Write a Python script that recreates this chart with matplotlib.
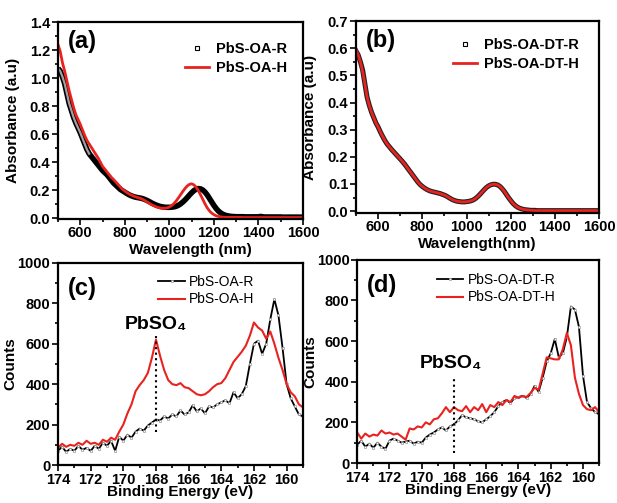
import numpy as np
import matplotlib
matplotlib.use('Agg')
import matplotlib.pyplot as plt
from matplotlib.ticker import MultipleLocator, FormatStrFormatter
from matplotlib.lines import Line2D

plt.rcParams['font.family'] = ['Liberation Sans', 'DejaVu Sans']
plt.rcParams['font.weight'] = 'bold'
plt.rcParams['axes.labelweight'] = 'bold'

# absorbance spectra, 500-1600 nm every 10 nm
wavelength = np.arange(500, 1610, 10)

abs_oa_r = [
    1.07, 1.05, 1.01, 0.96, 0.89, 0.82, 0.77, 0.72, 0.68, 0.645,
    0.61, 0.57, 0.53, 0.49, 0.46, 0.44, 0.42, 0.40, 0.38, 0.36,
    0.34, 0.325, 0.31, 0.29, 0.27, 0.25, 0.235, 0.22, 0.205, 0.195,
    0.185, 0.175, 0.166, 0.159, 0.153, 0.149, 0.146, 0.143, 0.139, 0.133,
    0.126, 0.118, 0.109, 0.101, 0.094, 0.088, 0.083, 0.080, 0.078, 0.077,
    0.077, 0.078, 0.080, 0.084, 0.091, 0.101, 0.114, 0.129, 0.146, 0.164,
    0.181, 0.196, 0.206, 0.211, 0.209, 0.201, 0.186, 0.166, 0.141, 0.116,
    0.091, 0.069, 0.051, 0.038, 0.028, 0.021, 0.017, 0.014, 0.012, 0.011,
    0.010, 0.010, 0.010, 0.010, 0.009, 0.009, 0.009, 0.009, 0.009, 0.009,
    0.009, 0.012, 0.009, 0.008, 0.008, 0.008, 0.008, 0.008, 0.008, 0.008,
    0.008, 0.007, 0.007, 0.007, 0.007, 0.007, 0.007, 0.007, 0.007, 0.007,
    0.007]

abs_oa_h = [
    1.24, 1.19, 1.11, 1.05, 0.98, 0.91, 0.85, 0.79, 0.74, 0.705,
    0.67, 0.63, 0.59, 0.555, 0.53, 0.505, 0.48, 0.455, 0.43, 0.40,
    0.37, 0.35, 0.33, 0.31, 0.29, 0.275, 0.258, 0.24, 0.222, 0.206,
    0.194, 0.182, 0.172, 0.164, 0.157, 0.151, 0.146, 0.141, 0.134, 0.125,
    0.115, 0.105, 0.096, 0.088, 0.081, 0.076, 0.072, 0.070, 0.070, 0.073,
    0.079, 0.089, 0.103, 0.121, 0.143, 0.166, 0.189, 0.211, 0.229, 0.241,
    0.245, 0.238, 0.222, 0.197, 0.167, 0.135, 0.102, 0.074, 0.052, 0.036,
    0.025, 0.017, 0.012, 0.009, 0.007, 0.006, 0.005, 0.005, 0.005, 0.005,
    0.005, 0.005, 0.005, 0.004, 0.004, 0.004, 0.004, 0.004, 0.004, 0.004,
    0.004, 0.004, 0.004, 0.004, 0.004, 0.004, 0.004, 0.004, 0.004, 0.004,
    0.004, 0.004, 0.004, 0.004, 0.004, 0.004, 0.004, 0.004, 0.004, 0.004,
    0.004]

abs_dt_r = [
    0.59, 0.575, 0.55, 0.52, 0.47, 0.42, 0.39, 0.365, 0.345, 0.325,
    0.31, 0.292, 0.276, 0.261, 0.248, 0.238, 0.228, 0.219, 0.21, 0.201,
    0.192, 0.183, 0.173, 0.162, 0.151, 0.14, 0.129, 0.118, 0.107, 0.098,
    0.091, 0.085, 0.08, 0.076, 0.073, 0.071, 0.069, 0.067, 0.065, 0.062,
    0.059, 0.055, 0.05, 0.045, 0.041, 0.038, 0.036, 0.035, 0.034, 0.034,
    0.035, 0.036, 0.038, 0.041, 0.046, 0.053, 0.061, 0.07, 0.079, 0.087,
    0.093, 0.097, 0.099, 0.099, 0.097, 0.092, 0.084, 0.074, 0.062, 0.05,
    0.039, 0.029, 0.021, 0.015, 0.011, 0.008, 0.006, 0.005, 0.004, 0.003,
    0.003, 0.003, 0.002, 0.002, 0.002, 0.002, 0.002, 0.002, 0.002, 0.002,
    0.002, 0.002, 0.002, 0.002, 0.002, 0.002, 0.002, 0.002, 0.002, 0.002,
    0.002, 0.002, 0.002, 0.002, 0.002, 0.002, 0.002, 0.002, 0.002, 0.002,
    0.002]

abs_dt_h = [
    0.595, 0.575, 0.55, 0.515, 0.47, 0.42, 0.39, 0.365, 0.345, 0.325,
    0.31, 0.292, 0.276, 0.261, 0.248, 0.238, 0.228, 0.219, 0.21, 0.201,
    0.192, 0.183, 0.173, 0.162, 0.151, 0.14, 0.129, 0.118, 0.107, 0.098,
    0.091, 0.085, 0.08, 0.076, 0.073, 0.071, 0.069, 0.067, 0.065, 0.062,
    0.059, 0.055, 0.05, 0.045, 0.041, 0.038, 0.036, 0.035, 0.034, 0.034,
    0.035, 0.036, 0.038, 0.041, 0.046, 0.053, 0.061, 0.07, 0.079, 0.087,
    0.093, 0.097, 0.099, 0.099, 0.097, 0.092, 0.084, 0.074, 0.062, 0.05,
    0.039, 0.029, 0.021, 0.015, 0.011, 0.008, 0.006, 0.005, 0.004, 0.003,
    0.003, 0.002, 0.002, 0.002, 0.002, 0.002, 0.002, 0.002, 0.002, 0.002,
    0.002, 0.002, 0.002, 0.002, 0.002, 0.002, 0.002, 0.002, 0.002, 0.002,
    0.002, 0.002, 0.002, 0.002, 0.002, 0.002, 0.002, 0.002, 0.002, 0.002,
    0.002]

# XPS S 2p region, 174 -> 159 eV every 0.25 eV
binding_energy = np.linspace(174, 159, 61)

xps_oa_r = [
    70, 90, 65, 80, 70, 95, 75, 85,
    70, 95, 80, 110, 95, 120, 70, 140,
    120, 150, 135, 165, 180, 170, 195, 210,
    225, 220, 240, 230, 250, 240, 270, 250,
    260, 295, 265, 280, 255, 290, 285, 300,
    310, 320, 305, 360, 330, 350, 390, 500,
    600, 615, 550, 600, 720, 820, 740, 580,
    400, 330, 290, 250, 240]

xps_oa_h = [
    85, 105, 90, 100, 95, 110, 100, 120,
    105, 110, 100, 125, 115, 135, 125, 165,
    200, 255, 300, 365, 395, 420, 455, 530,
    620, 540, 470, 420, 400, 395, 405, 385,
    380, 365, 350, 345, 350, 365, 385, 400,
    405, 430, 470, 510, 535, 560, 590, 640,
    705, 680, 665, 625, 660, 600, 530, 470,
    400, 360, 340, 300, 285]

xps_dt_r = [
    90, 110, 80, 95, 75, 100, 80, 70,
    110, 120, 110, 100, 105, 110, 95, 105,
    100, 125, 140, 150, 165, 175, 160, 180,
    190, 210, 235, 225, 220, 215, 205, 200,
    215, 230, 250, 280, 300, 310, 295, 320,
    325, 330, 320, 340, 380, 350, 420, 500,
    540, 610, 520, 540, 620, 770, 755, 670,
    430, 300, 270, 250, 240]

xps_dt_h = [
    150, 120, 145, 130, 140, 135, 160, 145,
    150, 140, 145, 130, 115, 170, 165, 180,
    175, 200, 190, 215, 220, 245, 275, 250,
    275, 260, 255, 280, 250, 275, 260, 290,
    250, 285, 275, 300, 285, 310, 300, 330,
    320, 330, 325, 345, 370, 360, 440, 520,
    515, 510, 510, 560, 640, 580, 420, 340,
    285, 265, 260, 275, 250]

RED = '#e8231f'


def style_axis(ax, xmaj, xmin, ymaj, ymin):
    for sp in ax.spines.values():
        sp.set_linewidth(1.6)
    ax.xaxis.set_major_locator(MultipleLocator(xmaj))
    ax.xaxis.set_minor_locator(MultipleLocator(xmin))
    ax.yaxis.set_major_locator(MultipleLocator(ymaj))
    ax.yaxis.set_minor_locator(MultipleLocator(ymin))
    ax.tick_params(which='both', direction='out', top=False, right=False, width=1.2)
    ax.tick_params(which='major', length=4, labelsize=10.5, pad=1.5)
    ax.tick_params(which='minor', length=2.5)


def square_handle():
    return Line2D([], [], marker='s', ls='none', ms=3, mfc='none', mec='black', mew=0.8)


fig = plt.figure(figsize=(6.17, 5.03), dpi=100)

# (a)
ax = fig.add_axes([0.094, 0.565, 0.397, 0.391])
wl = np.asarray(wavelength)
r = np.asarray(abs_oa_r)
ax.plot(wl, r, '-', color='black', lw=4, solid_capstyle='butt')
steep = wl <= 640
ax.plot(wl[steep], r[steep], '-', color='#a0a0a0', lw=1.6)
h_line, = ax.plot(wavelength, abs_oa_h, '-', color=RED, lw=2)
ax.set_xlim(500, 1600)
ax.set_ylim(-0.005, 1.4)
style_axis(ax, 200, 100, 0.2, 0.1)
ax.yaxis.set_major_formatter(FormatStrFormatter('%.1f'))
ax.set_xlabel('Wavelength (nm)', fontsize=11)
ax.set_ylabel('Absorbance (a.u)', fontsize=11)
ax.xaxis.set_label_coords(0.54, -0.125)
ax.yaxis.set_label_coords(-0.155, 0.5)
ax.text(0.04, 0.96, '(a)', transform=ax.transAxes, fontsize=17, va='top')
ax.legend([square_handle(), h_line], ['PbS-OA-R', 'PbS-OA-H'],
          loc='upper left', bbox_to_anchor=(0.52, 0.9), frameon=False, fontsize=10.5,
          handlelength=1.6, handletextpad=0.5, borderpad=0, borderaxespad=0,
          labelspacing=0.35)

# (b)
ax = fig.add_axes([0.577, 0.577, 0.394, 0.381])
ax.plot(wavelength, abs_dt_r, '-', color='#222222', lw=3.6)
h_line, = ax.plot(wavelength, abs_dt_h, '-', color=RED, lw=2)
ax.set_xlim(500, 1600)
ax.set_ylim(-0.006, 0.7)
style_axis(ax, 200, 100, 0.1, 0.05)
ax.yaxis.set_major_formatter(FormatStrFormatter('%.1f'))
ax.set_xlabel('Wavelength(nm)', fontsize=11)
ax.set_ylabel('Absorbance (a.u)', fontsize=11)
ax.xaxis.set_label_coords(0.5, -0.125)
ax.yaxis.set_label_coords(-0.16, 0.5)
ax.text(0.04, 0.96, '(b)', transform=ax.transAxes, fontsize=17, va='top')
ax.legend([square_handle(), h_line], ['PbS-OA-DT-R', 'PbS-OA-DT-H'],
          loc='upper left', bbox_to_anchor=(0.4, 0.91), frameon=False, fontsize=10.5,
          handlelength=1.6, handletextpad=0.5, borderpad=0, borderaxespad=0,
          labelspacing=0.3)

# (c)
ax = fig.add_axes([0.094, 0.0755, 0.397, 0.402])
ax.plot(binding_energy, xps_oa_r, '-s', color='black', lw=1.3, ms=1.8, mfc='white',
        mec='#999999', mew=0.5, label='PbS-OA-R')
ax.plot(binding_energy, xps_oa_h, '-', color=RED, lw=1.5, label='PbS-OA-H')
ax.plot([168, 168], [165, 640], ':', color='black', lw=1.5)
ax.text(168, 693, 'PbSO₄', fontsize=14, ha='center', va='center')
ax.set_xlim(174, 159)
ax.set_ylim(0, 1000)
style_axis(ax, 2, 1, 200, 100)
ax.set_xlabel('Binding Energy (eV)', fontsize=11)
ax.set_ylabel('Counts', fontsize=11)
ax.xaxis.set_label_coords(0.5, -0.1)
ax.yaxis.set_label_coords(-0.164, 0.5)
ax.text(0.04, 0.93, '(c)', transform=ax.transAxes, fontsize=17, va='top')
ax.legend(loc='upper left', bbox_to_anchor=(0.41, 0.94), frameon=False,
          prop={'size': 10, 'weight': 'normal'},
          handlelength=1.9, handletextpad=0.3, borderpad=0, borderaxespad=0,
          labelspacing=0.25)

# (d)
ax = fig.add_axes([0.579, 0.0795, 0.392, 0.404])
ax.plot(binding_energy, xps_dt_r, '-s', color='black', lw=1.3, ms=1.8, mfc='white',
        mec='#999999', mew=0.5, label='PbS-OA-DT-R')
ax.plot(binding_energy, xps_dt_h, '-', color=RED, lw=1.5, label='PbS-OA-DT-H')
ax.plot([168, 168], [50, 425], ':', color='black', lw=1.5)
ax.text(168.2, 492, 'PbSO₄', fontsize=14, ha='center', va='center')
ax.set_xlim(174, 159)
ax.set_ylim(0, 1000)
style_axis(ax, 2, 1, 200, 100)
ax.set_xlabel('Binding Energy (eV)', fontsize=11)
ax.set_ylabel('Counts', fontsize=11)
ax.xaxis.set_label_coords(0.5, -0.1)
ax.yaxis.set_label_coords(-0.165, 0.5)
ax.text(0.04, 0.93, '(d)', transform=ax.transAxes, fontsize=17, va='top')
ax.legend(loc='upper left', bbox_to_anchor=(0.33, 0.935), frameon=False,
          prop={'size': 10, 'weight': 'normal'},
          handlelength=1.9, handletextpad=0.3, borderpad=0, borderaxespad=0,
          labelspacing=0.25)

fig.savefig('out.png', dpi=100, facecolor='white')
